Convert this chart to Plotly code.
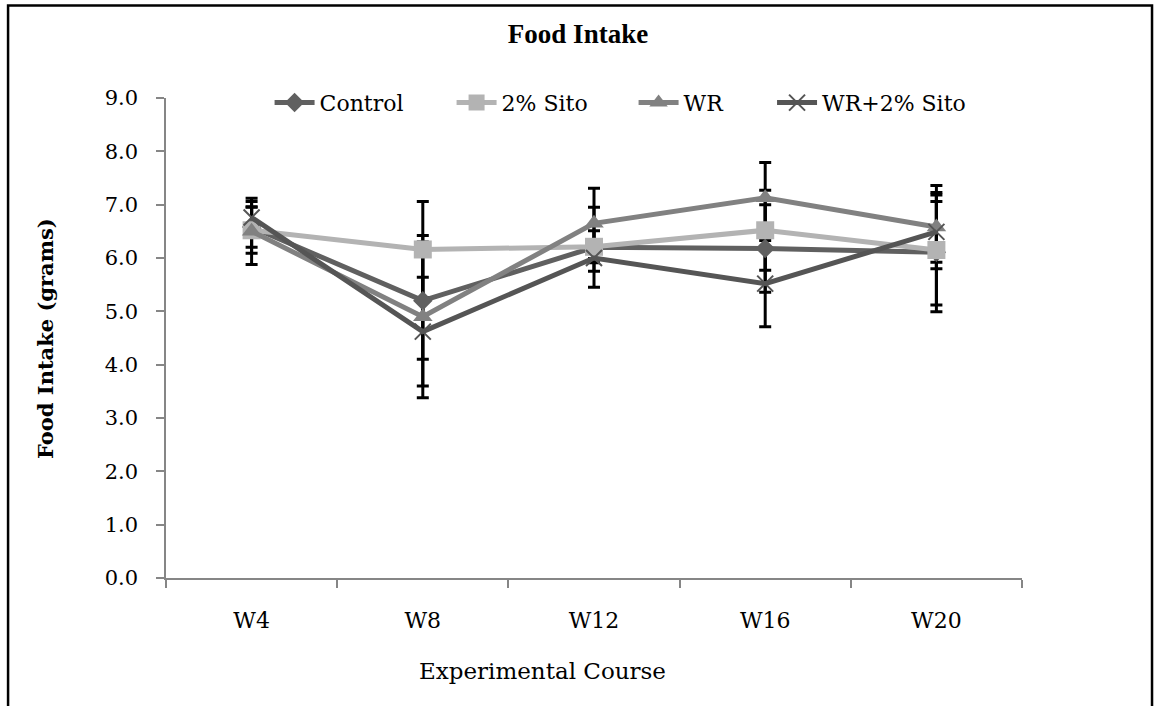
import plotly.graph_objects as go

# Weekly food intake (grams) per group, with error bar half-widths
weeks = ["W4", "W8", "W12", "W16", "W20"]

control = [6.58, 5.20, 6.20, 6.18, 6.11]
sito = [6.52, 6.16, 6.21, 6.52, 6.15]
wr = [6.50, 4.90, 6.65, 7.13, 6.58]
wr_sito = [6.76, 4.62, 6.00, 5.52, 6.49]

control_err = [0.38, 1.10, 0.75, 0.82, 1.12]
sito_err = [0.43, 0.90, 0.30, 0.75, 1.03]
wr_err = [0.62, 1.52, 0.66, 0.66, 0.78]
wr_sito_err = [0.30, 1.02, 0.25, 0.81, 0.57]

series_names = ["Control", "2% Sito", "WR", "WR+2% Sito"]
y_ticks = [0, 1, 2, 3, 4, 5, 6, 7, 8, 9]

series = [
    (series_names[0], control, control_err, "#606060", "diamond", 15, 0, "legend"),
    (series_names[1], sito, sito_err, "#b3b3b3", "square", 18, 0, "legend"),
    (series_names[2], wr, wr_err, "#818181", "triangle-up", 17, 0, "legend"),
    (series_names[3], wr_sito, wr_sito_err, "#555555", "x-thin-open", 16, 2, "legend2"),
]

fig = go.Figure()

# error bars first, so the lines and markers sit on top
for name, vals, err, color, sym, size, mlw, lg in series:
    fig.add_trace(go.Scatter(
        x=weeks, y=vals, mode="markers",
        marker=dict(size=1, opacity=0),
        error_y=dict(type="data", array=err, visible=True,
                     color="black", thickness=3, width=6),
        showlegend=False, hoverinfo="skip",
    ))

for name, vals, err, color, sym, size, mlw, lg in series:
    marker = dict(symbol=sym, size=size, color=color)
    if mlw:
        marker["line"] = dict(color=color, width=mlw)
    fig.add_trace(go.Scatter(
        x=weeks, y=vals, name=name, mode="lines+markers",
        line=dict(color=color, width=5),
        marker=marker, legend=lg,
    ))

serif = "DejaVu Serif"
legend_font = dict(family=serif, size=22, color="black")

fig.update_layout(
    width=1156, height=706,
    margin=dict(l=166, r=134, t=98, b=128),
    paper_bgcolor="white", plot_bgcolor="white",
    title=dict(text="<b>Food Intake</b>", x=0.5, xanchor="center",
               y=0.953, yanchor="middle",
               font=dict(family="Liberation Serif", size=27, color="black")),
    font=dict(family=serif, size=21, color="black"),
    legend=dict(orientation="h", x=0.121, xanchor="left", y=0.99,
                yanchor="middle", bgcolor="rgba(0,0,0,0)",
                font=legend_font, itemwidth=40, tracegroupgap=0,
                entrywidth=127, entrywidthmode="pixels"),
    legend2=dict(orientation="h", x=0.708, xanchor="left", y=0.99,
                 yanchor="middle", bgcolor="rgba(0,0,0,0)",
                 font=legend_font, itemwidth=40, tracegroupgap=0),
    showlegend=True,
)

fig.update_xaxes(
    type="category", range=[-0.5, 4.5],
    showline=True, linecolor="#868686", linewidth=1.5,
    showgrid=False, zeroline=False,
    ticks="outside", ticklen=8, tickcolor="#868686", tickwidth=1.5,
    tickson="boundaries", ticklabelstandoff=22,
    tickfont=dict(family=serif, size=22, color="black"),
)

fig.update_yaxes(
    range=[0, 9], tickvals=y_ticks,
    ticktext=[f"{v:.1f}" for v in y_ticks],
    showline=True, linecolor="#868686", linewidth=1.5,
    showgrid=False, zeroline=False,
    ticks="outside", ticklen=8, tickcolor="#868686", tickwidth=1.5,
    ticklabelstandoff=14,
    tickfont=dict(family=serif, size=21, color="black"),
)

# axis titles
fig.add_annotation(text="Experimental Course", xref="paper", yref="paper",
                   x=0.44, y=-0.1936, xanchor="center", yanchor="middle",
                   showarrow=False,
                   font=dict(family=serif, size=23, color="black"))
fig.add_annotation(text="<b>Food Intake (grams)</b>", xref="paper", yref="paper",
                   x=-0.1414, y=0.5, xanchor="center", yanchor="middle",
                   textangle=-90, showarrow=False,
                   font=dict(family=serif, size=21, color="black"))

# outer frame around the chart
fig.add_shape(type="rect", xref="paper", yref="paper",
              x0=-0.1845, x1=1.1519, y0=-0.3, y1=1.1925,
              line=dict(color="black", width=2.5), fillcolor="rgba(0,0,0,0)")

fig.write_html("out.html")
